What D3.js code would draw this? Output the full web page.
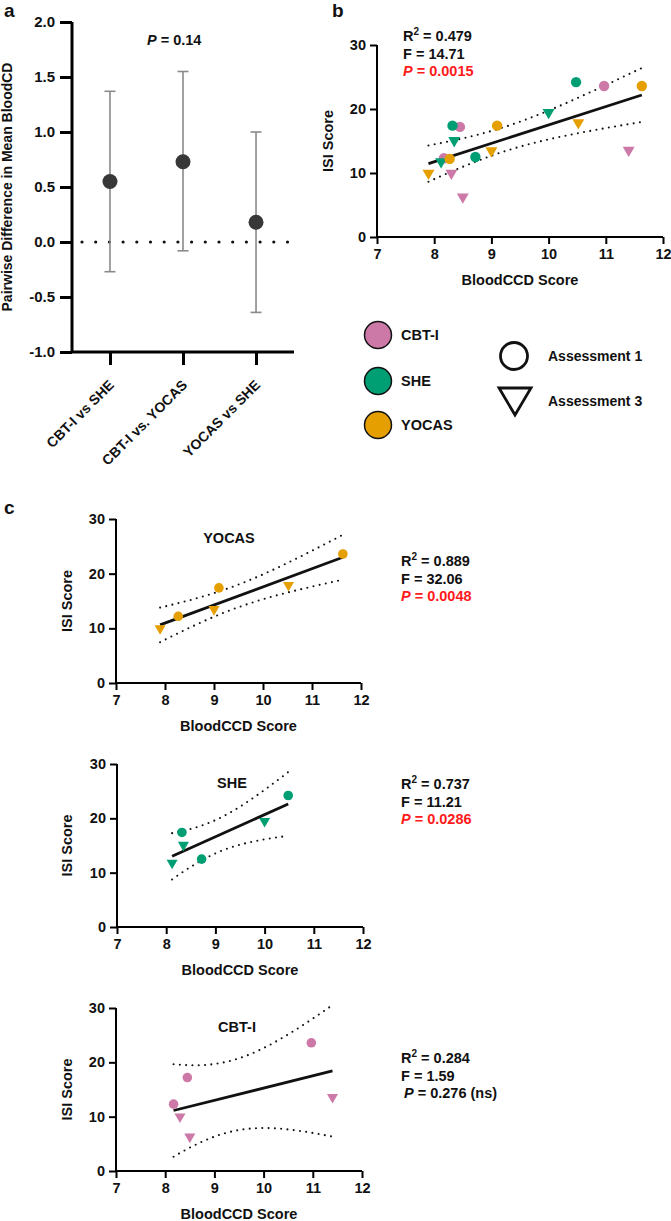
<!DOCTYPE html>
<html>
<head>
<meta charset="utf-8">
<script src="https://cdn.jsdelivr.net/npm/d3@7"></script>
<style>
  body { margin: 0; background: #fff; }
  svg text { font-family: "Liberation Sans", Arial, Helvetica, sans-serif; font-weight: bold; fill: #111; }
</style>
</head>
<body>
<svg id="fig" width="671" height="1221"></svg>
<script>
// panel a : pairwise differences
var pairLabels = ["CBT-I vs SHE", "CBT-I vs. YOCAS", "YOCAS vs SHE"];
var pairMean = [0.55, 0.73, 0.18];
var pairLow = [-0.27, -0.08, -0.64];
var pairHigh = [1.37, 1.55, 1.00];
var pairTicks = [-1.0, -0.5, 0.0, 0.5, 1.0, 1.5, 2.0];

// scatter data, assessment 1 (circles) and 3 (triangles)
var groups = ["CBT-I", "SHE", "YOCAS"];
var groupColors = ["#cc79a7", "#009e73", "#e69f00"];
var cbtiX1 = [8.17, 8.45, 10.97], cbtiY1 = [12.3, 17.2, 23.6];
var cbtiX3 = [8.30, 8.50, 11.40], cbtiY3 = [9.7, 6.0, 13.3];
var sheX1 = [8.32, 8.72, 10.48], sheY1 = [17.4, 12.5, 24.2];
var sheX3 = [8.12, 8.35, 10.00], sheY3 = [11.5, 14.8, 19.2];
var yocasX1 = [8.27, 9.10, 11.63], yocasY1 = [12.2, 17.4, 23.6];
var yocasX3 = [7.90, 9.00, 10.52], yocasY3 = [9.7, 13.2, 17.6];
var scoreTicksX = [7, 8, 9, 10, 11, 12];
var scoreTicksY = [0, 10, 20, 30];

// stats shown beside each fit
var statsAll = ["0.479", "14.71", "0.0015"];
var statsYocas = ["0.889", "32.06", "0.0048"];
var statsShe = ["0.737", "11.21", "0.0286"];
var statsCbti = ["0.284", "1.59", "0.276 (ns)"];

function pts(xs, ys, g, a) {
	return xs.map(function (x, i) { return {x: x, y: ys[i], g: g, a: a}; });
}
var cbtiPts = pts(cbtiX1, cbtiY1, 0, 1).concat(pts(cbtiX3, cbtiY3, 0, 3));
var shePts = pts(sheX1, sheY1, 1, 1).concat(pts(sheX3, sheY3, 1, 3));
var yocasPts = pts(yocasX1, yocasY1, 2, 1).concat(pts(yocasX3, yocasY3, 2, 3));
var allPts = cbtiPts.concat(shePts, yocasPts);

var svg = d3.select("#fig");

function label(txt, x, y) {
	svg.append("text").attr("x", x).attr("y", y).style("font-size", "19px").text(txt);
}
label("a", 4, 17);
label("b", 332, 17);
label("c", 4, 514);

////////////////////////////////////////////////////////////////
//  panel a
////////////////////////////////////////////////////////////////
(function () {
	var xa = d3.scalePoint().domain(pairLabels).range([72, 294]).padding(0.52);
	var ya = d3.scaleLinear().domain([-1, 2]).range([352, 22]);
	var g = svg.append("g");

	var ax = g.append("g").attr("transform", "translate(72,0)")
		.call(d3.axisLeft(ya).tickValues(pairTicks).tickSize(12).tickPadding(5)
			.tickFormat(function (d) { return d.toFixed(1); }));
	ax.select(".domain").attr("stroke-width", 3).attr("d", "M0," + ya(2) + "V" + ya(-1));
	ax.selectAll(".tick line").attr("stroke-width", 3);
	ax.selectAll(".tick text").style("font-size", "15px").attr("fill", "#111");

	var bx = g.append("g").attr("transform", "translate(0,352)")
		.call(d3.axisBottom(xa).tickSize(13).tickFormat(""));
	bx.select(".domain").attr("stroke-width", 3).attr("d", "M72,0H294");
	bx.selectAll(".tick line").attr("stroke-width", 3);

	pairLabels.forEach(function (c) {
		g.append("text").attr("text-anchor", "end")
			.attr("transform", "translate(" + (xa(c) + 5) + ",386) rotate(-45)")
			.style("font-size", "14px").text(c);
	});

	g.append("text").attr("text-anchor", "middle")
		.attr("transform", "translate(12,187) rotate(-90)")
		.style("font-size", "14px").text("Pairwise Difference in Mean BloodCD");

	g.append("line").attr("x1", 82).attr("x2", 294).attr("y1", ya(0)).attr("y2", ya(0))
		.attr("stroke", "#111").attr("stroke-width", 3.2)
		.attr("stroke-linecap", "round").attr("stroke-dasharray", "0,13.7");

	pairLabels.forEach(function (c, i) {
		var x = xa(c);
		g.append("line").attr("x1", x).attr("x2", x).attr("y1", ya(pairLow[i])).attr("y2", ya(pairHigh[i]))
			.attr("stroke", "#8a8a8a").attr("stroke-width", 1.6);
		[pairLow[i], pairHigh[i]].forEach(function (v) {
			g.append("line").attr("x1", x - 5.5).attr("x2", x + 5.5).attr("y1", ya(v)).attr("y2", ya(v))
				.attr("stroke", "#8a8a8a").attr("stroke-width", 1.6);
		});
		g.append("circle").attr("cx", x).attr("cy", ya(pairMean[i])).attr("r", 7.5).attr("fill", "#383838");
	});

	var pt = g.append("text").attr("x", 147).attr("y", 45).style("font-size", "14.5px");
	pt.append("tspan").style("font-style", "italic").text("P");
	pt.append("tspan").text(" = 0.14");
})();

////////////////////////////////////////////////////////////////
//  regression scatter panels
////////////////////////////////////////////////////////////////
// t(0.975, df) for the band
var tCrit = {4: 2.776, 16: 2.120};

function fit(data) {
	var n = data.length,
		mx = d3.mean(data, function (d) { return d.x; }),
		my = d3.mean(data, function (d) { return d.y; });
	var sxx = d3.sum(data, function (d) { return (d.x - mx) * (d.x - mx); });
	var sxy = d3.sum(data, function (d) { return (d.x - mx) * (d.y - my); });
	var b = sxy / sxx, a = my - b * mx;
	var sse = d3.sum(data, function (d) { var r = d.y - (a + b * d.x); return r * r; });
	var s = Math.sqrt(sse / (n - 2));
	return {a: a, b: b, n: n, mx: mx, sxx: sxx, s: s, t: tCrit[n - 2]};
}

function tri(cx, cy, w) {
	var h = w * 0.87;
	return "M" + (cx - w / 2) + "," + (cy - h / 2) + "H" + (cx + w / 2) + "L" + cx + "," + (cy + h / 2) + "Z";
}

function scatter(o) {
	var x = d3.scaleLinear().domain([7, 12]).range([o.x0, o.x1]);
	var y = d3.scaleLinear().domain([0, 30]).range([o.y0, o.y1]);
	var g = svg.append("g");

	var ax = g.append("g").attr("transform", "translate(" + o.x0 + ",0)")
		.call(d3.axisLeft(y).tickValues(scoreTicksY).tickSize(7).tickPadding(4).tickFormat(d3.format("d")));
	ax.select(".domain").attr("stroke-width", 2).attr("d", "M0," + o.y1 + "V" + o.y0);
	ax.selectAll(".tick line").attr("stroke-width", 2);
	ax.selectAll(".tick text").style("font-size", "14.5px").attr("fill", "#111");

	var bx = g.append("g").attr("transform", "translate(0," + o.y0 + ")")
		.call(d3.axisBottom(x).tickValues(scoreTicksX).tickSize(7).tickPadding(5).tickFormat(d3.format("d")));
	bx.select(".domain").attr("stroke-width", 2).attr("d", "M" + o.x0 + ",0H" + o.x1);
	bx.selectAll(".tick line").attr("stroke-width", 2);
	bx.selectAll(".tick text").style("font-size", "14.5px").attr("fill", "#111");

	g.append("text").attr("text-anchor", "middle").attr("x", (o.x0 + o.x1) / 2).attr("y", o.y0 + 48)
		.style("font-size", "14.5px").text("BloodCCD Score");
	g.append("text").attr("text-anchor", "middle")
		.attr("transform", "translate(" + o.ylabX + "," + (o.y0 + o.y1) / 2 + ") rotate(-90)")
		.style("font-size", "14.5px").text("ISI Score");

	if (o.title) {
		g.append("text").attr("text-anchor", "middle").attr("x", o.titleX).attr("y", o.y1 + 24)
			.style("font-size", "14.5px").text(o.title);
	}

	// fitted line and 95% band
	var f = fit(o.data);
	var lo = d3.min(o.data, function (d) { return d.x; }),
		hi = d3.max(o.data, function (d) { return d.x; });
	var xs = d3.range(0, 41).map(function (i) { return lo + (hi - lo) * i / 40; });
	function band(sign) {
		return xs.map(function (v) {
			var se = f.s * Math.sqrt(1 / f.n + (v - f.mx) * (v - f.mx) / f.sxx);
			return [v, f.a + f.b * v + sign * f.t * se];
		});
	}
	var line = d3.line().x(function (d) { return x(d[0]); }).y(function (d) { return y(d[1]); });
	[-1, 1].forEach(function (sgn) {
		g.append("path").attr("d", line(band(sgn))).attr("fill", "none")
			.attr("stroke", "#111").attr("stroke-width", 2.1)
			.attr("stroke-linecap", "round").attr("stroke-dasharray", "0,6.3");
	});
	g.append("path").attr("d", line([[lo, f.a + f.b * lo], [hi, f.a + f.b * hi]]))
		.attr("stroke", "#111").attr("stroke-width", 2.8).attr("fill", "none");

	// markers
	o.data.forEach(function (d) {
		if (d.a === 1) {
			g.append("circle").attr("cx", x(d.x)).attr("cy", y(d.y)).attr("r", o.r)
				.attr("fill", groupColors[d.g]);
		} else {
			g.append("path").attr("d", tri(x(d.x), y(d.y), o.r * 2.3)).attr("fill", groupColors[d.g]);
		}
	});

	// stats text
	var sz = "14.5px";
	var t1 = g.append("text").attr("x", o.sx).attr("y", o.sy).style("font-size", sz);
	t1.append("tspan").text("R");
	t1.append("tspan").attr("dy", -6).style("font-size", "10px").text("2");
	t1.append("tspan").attr("dy", 6).text(" = " + o.stats[0]);
	g.append("text").attr("x", o.sx).attr("y", o.sy + 17.5).style("font-size", sz).text("F = " + o.stats[1]);
	var t3 = g.append("text").attr("x", o.sx + (o.pIndent || 0)).attr("y", o.sy + 35).style("font-size", sz)
		.style("fill", o.pRed ? "#ff1a1a" : "#111");
	t3.append("tspan").style("font-style", "italic").style("fill", o.pRed ? "#ff1a1a" : "#111").text("P");
	t3.append("tspan").style("fill", o.pRed ? "#ff1a1a" : "#111").text(" = " + o.stats[2]);
}

scatter({x0: 377, x1: 663, y0: 237, y1: 45, data: allPts, r: 5.2, ylabX: 333,
	sx: 403, sy: 41, stats: statsAll, pRed: true});
scatter({x0: 116, x1: 361, y0: 683, y1: 519, data: yocasPts, r: 4.8, ylabX: 72,
	title: "YOCAS", titleX: 229, sx: 401, sy: 566, stats: statsYocas, pRed: true});
scatter({x0: 117, x1: 363, y0: 927, y1: 764, data: shePts, r: 4.8, ylabX: 72,
	title: "SHE", titleX: 232, sx: 401, sy: 789, stats: statsShe, pRed: true});
scatter({x0: 116, x1: 362, y0: 1171, y1: 1008, data: cbtiPts, r: 4.8, ylabX: 72,
	title: "CBT-I", titleX: 237, sx: 401, sy: 1063, stats: statsCbti, pRed: false, pIndent: 3});

////////////////////////////////////////////////////////////////
//  legend
////////////////////////////////////////////////////////////////
var legY = [335, 381, 425];
groups.forEach(function (gname, i) {
	svg.append("circle").attr("cx", 378).attr("cy", legY[i]).attr("r", 13.5)
		.attr("fill", groupColors[i]).attr("stroke", "#111").attr("stroke-width", 1.5);
	svg.append("text").attr("x", 401).attr("y", legY[i] + 5).style("font-size", "14.5px").text(gname);
});
svg.append("circle").attr("cx", 514).attr("cy", 356).attr("r", 13.5)
	.attr("fill", "none").attr("stroke", "#111").attr("stroke-width", 2.8);
svg.append("path").attr("d", "M499,388H531L515,415Z")
	.attr("fill", "none").attr("stroke", "#111").attr("stroke-width", 2.8).attr("stroke-linejoin", "miter");
svg.append("text").attr("x", 548).attr("y", 361).style("font-size", "14px").text("Assessment 1");
svg.append("text").attr("x", 548).attr("y", 406).style("font-size", "14px").text("Assessment 3");
</script>
</body>
</html>
